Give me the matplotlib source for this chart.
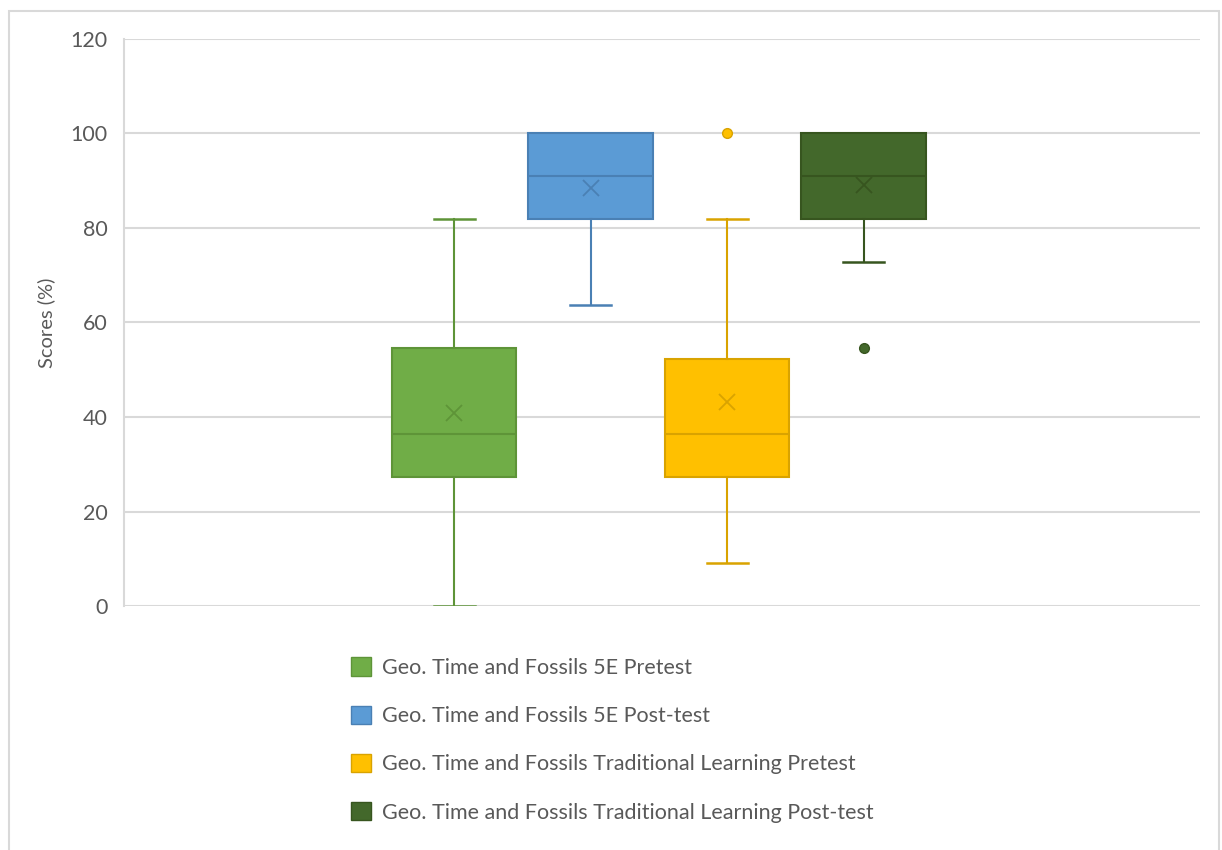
import matplotlib.pyplot as plt
from matplotlib.patches import Patch, Rectangle

labels = ["Geo. Time and Fossils 5E Pretest",
          "Geo. Time and Fossils 5E Post-test",
          "Geo. Time and Fossils Traditional Learning Pretest",
          "Geo. Time and Fossils Traditional Learning Post-test"]
whislo = [0.0, 63.6, 9.1, 72.7]
q1 = [27.3, 81.8, 27.3, 81.8]
med = [36.4, 90.9, 36.4, 90.9]
q3 = [54.6, 100.0, 52.3, 100.0]
whishi = [81.8, 100.0, 81.8, 100.0]
means = [40.9, 88.4, 43.2, 89.0]
fliers = [[], [], [100.0], [54.5]]

fills = ["#70AD47", "#5B9BD5", "#FFC000", "#43682B"]
edges = ["#5E9438", "#4A80B4", "#D9A300", "#37551F"]

plt.rcParams['font.family'] = ['Lato', 'DejaVu Sans']

fig = plt.figure(figsize=(12.22, 8.5), dpi=100)
ax = fig.add_axes([124 / 1222, 1 - 606 / 850, (1200 - 124) / 1222, (606 - 39) / 850])

pos = [0, 1, 2, 3]
for i in range(4):
    st = dict(whislo=whislo[i], q1=q1[i], med=med[i], q3=q3[i],
              whishi=whishi[i], mean=means[i], fliers=fliers[i])
    bp = ax.bxp([st], positions=[pos[i]], widths=0.91, patch_artist=True,
                showmeans=True, showfliers=True,
                boxprops=dict(facecolor=fills[i], edgecolor=edges[i], linewidth=1.5),
                medianprops=dict(color=edges[i], linewidth=1.5),
                whiskerprops=dict(color=edges[i], linewidth=1.5),
                capprops=dict(color=edges[i], linewidth=1.8),
                capwidths=0.3,
                meanprops=dict(marker="x", markersize=12, markeredgecolor=edges[i],
                               markeredgewidth=1.3),
                flierprops=dict(marker="o", markersize=7, markerfacecolor=fills[i],
                                markeredgecolor=edges[i], markeredgewidth=1))
    # no upper cap when the whisker ends on the box edge
    if whishi[i] == q3[i]:
        bp["caps"][1].set_visible(False)

ax.set_xlim(-2.418, 5.465)
ax.set_ylim(0, 120)
ax.set_yticks(range(0, 121, 20))
ax.set_xticks([])
ax.yaxis.grid(True, color="#D9D9D9", linewidth=1.5)
ax.set_axisbelow(True)
for s in ["top", "right", "bottom"]:
    ax.spines[s].set_visible(False)
ax.spines["left"].set_color("#D9D9D9")
ax.spines["left"].set_linewidth(1.5)
ax.tick_params(axis="y", length=0, pad=12, labelsize=15.5, labelcolor="#595959")
ax.set_ylabel("Scores (%)", fontsize=14.5, color="#595959", labelpad=11)

handles = [Patch(facecolor=fills[i], edgecolor=edges[i], linewidth=1) for i in range(4)]
fig.legend(handles, labels, loc="upper left", bbox_to_anchor=(332 / 1222, 1 - 638 / 850),
           frameon=False, fontsize=15.5, labelcolor="#595959", handlelength=0.92,
           handleheight=0.92, handletextpad=0.5, labelspacing=1.29)

fig.patches.append(Rectangle((8.5 / 1222, -0.05), (1219 - 8.5) / 1222, 1.05 - 10.5 / 850,
                             transform=fig.transFigure, fill=False,
                             edgecolor="#D9D9D9", linewidth=1.5))

fig.savefig("out.png", dpi=100)
